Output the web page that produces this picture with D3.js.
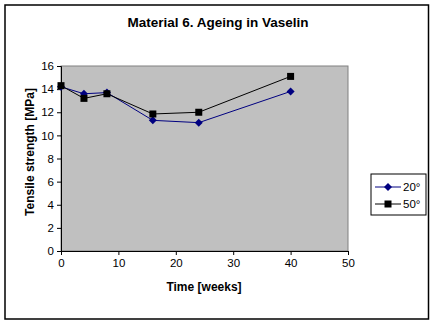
<!DOCTYPE html>
<html><head><meta charset="utf-8">
<script src="https://cdn.jsdelivr.net/npm/d3@7"></script>
<style>body{margin:0;background:#fff}svg{display:block}text{font-family:Arial,"Liberation Sans",sans-serif}</style>
</head><body><svg id="c" width="435" height="325"></svg>
<script>
const weeks = [0, 4, 8, 16, 24, 40];
const s20 = [14.2, 13.6, 13.7, 11.3, 11.1, 13.8];
const s50 = [14.3, 13.2, 13.6, 11.85, 12.0, 15.1];
const seriesNames = ["20°", "50°"];
const xTicks = [0, 10, 20, 30, 40, 50];
const yTicks = [0, 2, 4, 6, 8, 10, 12, 14, 16];

const svg = d3.select("#c");
svg.append("rect").attr("x",5).attr("y",5).attr("width",423.5).attr("height",314)
  .attr("fill","#fff").attr("stroke","#000").attr("stroke-width",1.5);

const x = d3.scaleLinear().domain([0,50]).range([61,348]);
const y = d3.scaleLinear().domain([0,16]).range([251,66]);

svg.append("rect").attr("x",61).attr("y",66).attr("width",287).attr("height",185)
  .attr("fill","#c0c0c0").attr("stroke","#808080").attr("stroke-width",1);

const xa = svg.append("g").attr("transform","translate(0,251)")
  .call(d3.axisBottom(x).tickValues(xTicks).tickSize(4).tickPadding(4));
const ya = svg.append("g").attr("transform","translate(61,0)")
  .call(d3.axisLeft(y).tickValues(yTicks).tickSize(4).tickPadding(3));
[xa, ya].forEach(a => {
  a.select(".domain").attr("stroke","#000");
  a.selectAll(".tick line").attr("stroke","#000");
  a.selectAll("text").attr("font-size",11.5).attr("fill","#000").style("font-family","Arial, 'Liberation Sans', sans-serif");
});

const line = d3.line().x((d,i)=>x(weeks[i])).y(d=>y(d));
const data = [{v:s20,color:"#000080",m:"diamond"},{v:s50,color:"#000",m:"square"}];
data.forEach(s => {
  svg.append("path").attr("d", line(s.v)).attr("fill","none").attr("stroke",s.color).attr("stroke-width",1);
});
function marker(g, m, cx, cy, color){
  if(m==="diamond"){
    g.append("path").attr("d",`M${cx},${cy-4}L${cx+4},${cy}L${cx},${cy+4}L${cx-4},${cy}Z`).attr("fill",color);
  } else {
    g.append("rect").attr("x",cx-3.5).attr("y",cy-3.5).attr("width",7).attr("height",7).attr("fill",color);
  }
}
const mg = svg.append("g");
data.forEach(s => s.v.forEach((d,i)=>marker(mg, s.m, x(weeks[i]), y(d), s.color)));

svg.append("text").attr("x",218).attr("y",27).attr("text-anchor","middle")
  .attr("font-size",13.5).attr("font-weight","bold").text("Material 6. Ageing in Vaselin");
svg.append("text").attr("x",204).attr("y",291).attr("text-anchor","middle")
  .attr("font-size",12).attr("font-weight","bold").text("Time [weeks]");
svg.append("text").attr("transform","translate(34,152) rotate(-90)").attr("text-anchor","middle")
  .attr("font-size",12).attr("font-weight","bold").text("Tensile strength [MPa]");

const lg = svg.append("g");
lg.append("rect").attr("x",371).attr("y",174).attr("width",55).attr("height",41)
  .attr("fill","#fff").attr("stroke","#000").attr("stroke-width",1);
data.forEach((s,i)=>{
  const ly = 187 + i*17;
  lg.append("line").attr("x1",375).attr("x2",401).attr("y1",ly).attr("y2",ly).attr("stroke",s.color);
  marker(lg, s.m, 388, ly, s.color);
  lg.append("text").attr("x",403).attr("y",ly+4).attr("font-size",11.5).text(seriesNames[i]);
});
</script></body></html>
